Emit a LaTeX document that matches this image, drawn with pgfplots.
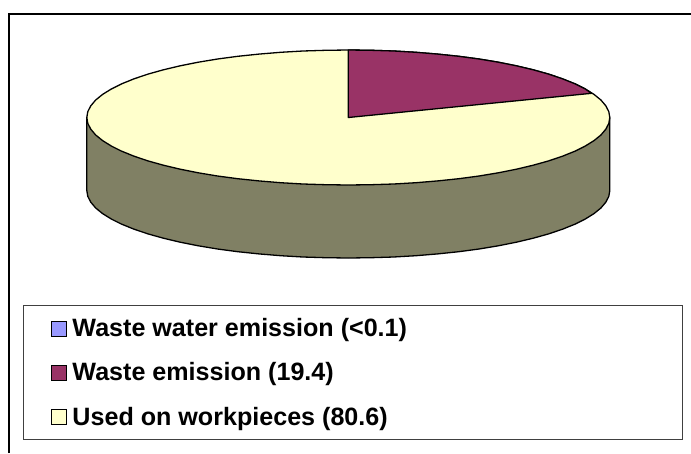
\documentclass[border=0pt]{standalone}
\usepackage{fontspec}
\setmainfont{Liberation Sans}
\usepackage{pgfplots}
\pgfplotsset{compat=1.18}
\definecolor{cblue}{HTML}{9999FF}
\definecolor{cmaroon}{HTML}{993366}
\definecolor{cyellow}{HTML}{FFFFCC}
\definecolor{cside}{HTML}{808064}
\pgfplotsset{
  pieline/.style={draw=black,line width=1.3pt,line join=round,no markers,forget plot},
  swatch/.style={legend image code/.code={\draw[draw=black,line width=1pt,fill=#1] (0pt,-8pt) rectangle (15pt,7pt);}},
}
\begin{document}
\begin{tikzpicture}
\begin{axis}[
  scale only axis,width=691pt,height=453pt,
  xmin=0,xmax=691,ymin=0,ymax=453,y dir=reverse,
  hide axis,clip=true,
  legend cell align=left,
  legend style={at={(axis cs:23,305)},anchor=north west,draw=black!75,line width=1pt,fill=white,
    inner xsep=27.5pt,inner ysep=11pt,row sep=20.5pt,
    nodes={font=\fontsize{25.1pt}{27pt}\selectfont\bfseries,inner xsep=4.5pt,inner ysep=2pt}},
]
% frame
\addplot[draw=black,line width=2pt,no markers,forget plot] coordinates {(8.8,453) (8.8,14) (691,14)};
% side wall
\addplot[pieline,fill=cside] coordinates {
(86.8,117.5) (86.8,190.5) (87.8,196.4) (90.8,202.2) (95.7,208.0) (102.6,213.6) (111.3,219.0) (121.8,224.25)
(134.1,229.2) (148.0,233.9) (163.4,238.2) (180.2,242.2) (198.3,245.8) (217.55,249.0) (237.8,251.7)
(258.9,253.9) (280.6,255.7) (302.9,257.0) (325.5,257.7) (348.3,258.0) (371.1,257.7) (393.7,257.0)
(416.0,255.7) (437.7,253.9) (458.8,251.7) (479.05,249.0) (498.3,245.8) (516.4,242.2) (533.2,238.2)
(548.6,233.9) (562.5,229.2) (574.8,224.25) (585.3,219.0) (594.0,213.6) (600.9,208.0) (605.8,202.2)
(608.8,196.4) (609.8,190.5) (609.8,117.5)} --cycle;
% used on workpieces
\addplot[pieline,fill=cyellow] coordinates {
(609.8,117.5) (608.8,111.6) (605.8,105.8) (600.9,100.0) (594.0,94.4) (585.3,89.0) (574.8,83.75) (562.5,78.8)
(548.6,74.1) (533.2,69.8) (516.4,65.8) (498.3,62.2) (479.05,59.0) (458.8,56.3) (437.7,54.1) (416.0,52.3)
(393.7,51.0) (371.1,50.3) (348.3,50.0) (325.5,50.3) (302.9,51.0) (280.6,52.3) (258.9,54.1) (237.8,56.3)
(217.55,59.0) (198.3,62.2) (180.2,65.8) (163.4,69.8) (148.0,74.1) (134.1,78.8) (121.8,83.75) (111.3,89.0)
(102.6,94.4) (95.7,100.0) (90.8,105.8) (87.8,111.6) (86.8,117.5) (87.8,123.4) (90.8,129.2) (95.7,135.0)
(102.6,140.6) (111.3,146.0) (121.8,151.25) (134.1,156.2) (148.0,160.9) (163.4,165.2) (180.2,169.2)
(198.3,172.8) (217.55,176.0) (237.8,178.7) (258.9,180.9) (280.6,182.7) (302.9,184.0) (325.5,184.7)
(348.3,185.0) (371.1,184.7) (393.7,184.0) (416.0,182.7) (437.7,180.9) (458.8,178.7) (479.05,176.0)
(498.3,172.8) (516.4,169.2) (533.2,165.2) (548.6,160.9) (562.5,156.2) (574.8,151.25) (585.3,146.0)
(594.0,140.6) (600.9,135.0) (605.8,129.2) (608.8,123.4) (609.8,117.5)} --cycle;
% waste emission
\addplot[pieline,fill=cmaroon] coordinates {
(348.3,117.5) (348.3,50.0) (371.1,50.3) (393.7,51.0) (416.0,52.3) (437.7,54.1) (458.8,56.3) (479.05,59.0)
(498.3,62.2) (516.4,65.8) (533.2,69.8) (548.6,74.1) (562.5,78.8) (574.8,83.75) (585.3,89.0) (591.7,93.3)} --cycle;
\addlegendimage{swatch=cblue}
\addlegendentry{\makebox[579pt][l]{\hspace*{1pt}Waste water emission (<0.1)}}
\addlegendimage{swatch=cmaroon}
\addlegendentry{\makebox[579pt][l]{\hspace*{1pt}Waste emission (19.4)}}
\addlegendimage{swatch=cyellow}
\addlegendentry{\makebox[579pt][l]{\hspace*{1pt}Used on workpieces (80.6)}}
\end{axis}
\pgfresetboundingbox
\path[use as bounding box] (0,0) rectangle (691pt,453pt);
\end{tikzpicture}
\end{document}
